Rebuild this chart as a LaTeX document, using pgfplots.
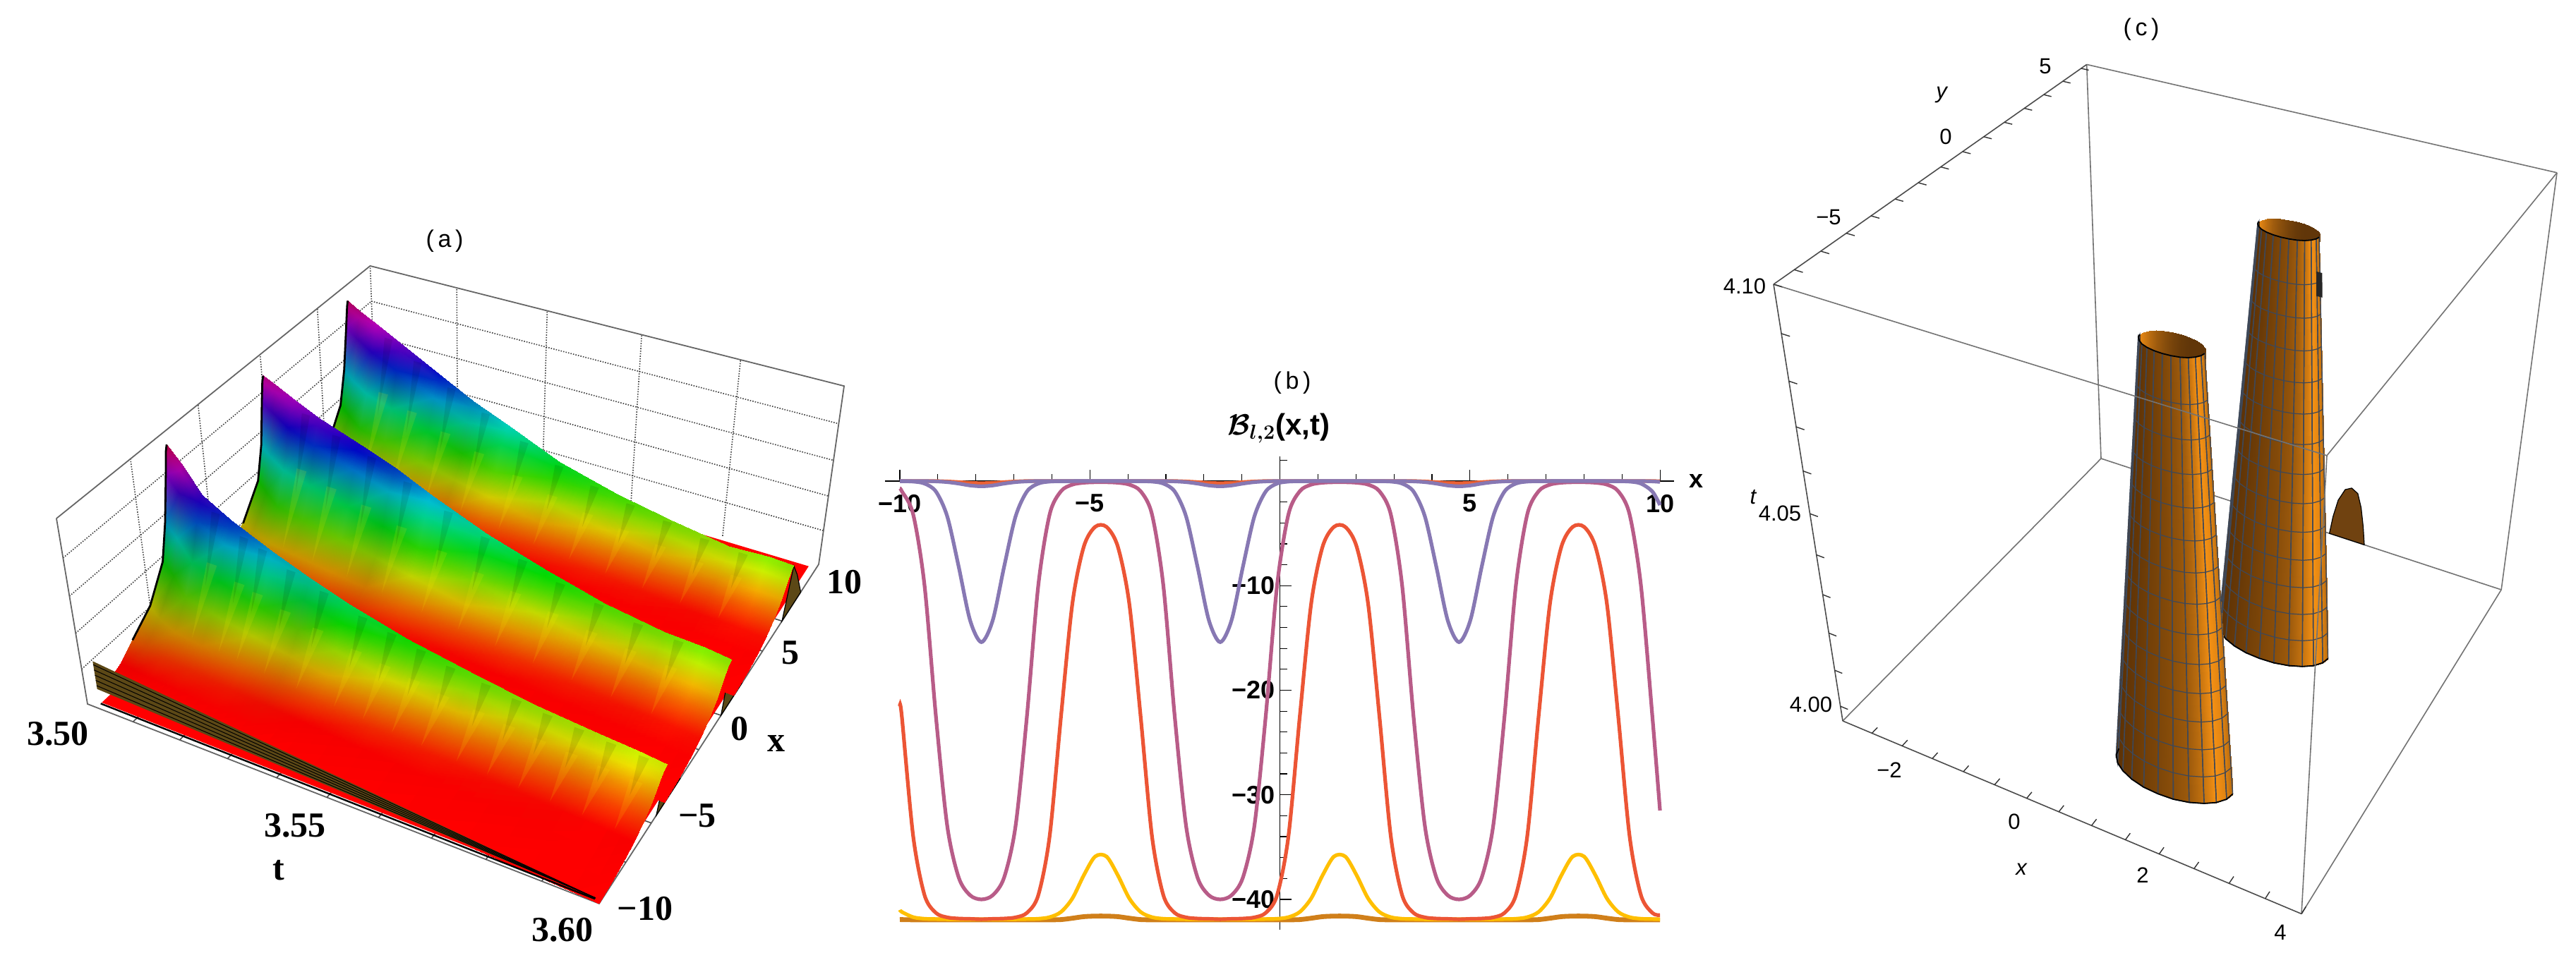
\documentclass[border=0pt]{standalone}
\usepackage{fontspec}
\setmainfont{Liberation Sans}
\newfontfamily\timesf{Liberation Serif}
\usepackage{pgfplots}
\pgfplotsset{compat=1.18}
\usepackage{pgfplotstable}
\usepgfplotslibrary{patchplots}
\definecolor{lipc}{RGB}{92,72,22}
\definecolor{meshl}{RGB}{62,72,88}
\definecolor{domec}{RGB}{112,66,16}
\pgfplotsset{
 colormap={cone}{rgb255(0cm)=(85,45,5) rgb255(1cm)=(245,145,20)},
 colormap={coneback}{rgb255(0cm)=(90,50,8) rgb255(1cm)=(230,135,20)},
 colormap={meshc}{rgb255(0cm)=(62,72,88) rgb255(1cm)=(62,72,88)},
}
\pgfkeys{/pgfplots/table/projA/.style={x expr={XA(\thisrow{a},\thisrow{b},\thisrow{c})},y expr={YA(\thisrow{a},\thisrow{b},\thisrow{c})},z expr=0}}
\pgfkeys{/pgfplots/table/projS/.style n args={3}{x expr={XA(#1+\thisrow{da},#2-\thisrow{db},#3*\thisrow{s})},y expr={YA(#1+\thisrow{da},#2-\thisrow{db},#3*\thisrow{s})},z expr=0}}
\pgfkeys{/pgfplots/table/projC/.style 2 args={x expr={XC(#1+\thisrow{da},#2+\thisrow{db},\thisrow{c})},y expr={YC(#1+\thisrow{da},#2+\thisrow{db},\thisrow{c})},z expr=0}}
\pgfkeys{/pgfplots/table/ringC/.style n args={3}{x expr={XC(#1+(1-#3)*\thisrow{u}+#3*\thisrow{w},#2+(1-#3)*\thisrow{v}+#3*\thisrow{s},0.97*#3)},y expr={YC(#1+(1-#3)*\thisrow{u}+#3*\thisrow{w},#2+(1-#3)*\thisrow{v}+#3*\thisrow{s},0.97*#3)},z expr=0}}
\pgfkeys{/pgfplots/table/projD/.style={x expr={XC(\thisrow{a},1,\thisrow{c})},y expr={YC(\thisrow{a},1,\thisrow{c})},z expr=0}}
% ridge surfaces of panel (a): t fraction a, x fraction b, height fraction c
\pgfplotstableread[row sep=\\]{
a b c\\
0 .05 0\\0 .1 .047\\0 .14 .112\\0 .2 .205\\0 .25 .372\\0 .27 .558\\0 .288 .79\\0 .296 .902\\0 .3 .93\\
.03 .049 0\\.03 .099 .043\\.03 .139 .102\\.03 .185 .187\\.03 .239 .34\\.03 .261 .51\\.03 .282 .723\\.03 .293 .825\\.03 .299 .85\\
.07 .047 0\\.07 .097 .036\\.07 .137 .086\\.07 .177 .158\\.07 .217 .288\\.07 .247 .432\\.07 .272 .612\\.07 .287 .698\\.07 .297 .72\\
.13 .044 0\\.13 .094 .032\\.13 .134 .077\\.13 .174 .141\\.13 .214 .256\\.13 .244 .384\\.13 .269 .544\\.13 .284 .621\\.13 .294 .64\\
.22 .039 0\\.22 .089 .028\\.22 .129 .066\\.22 .169 .121\\.22 .209 .22\\.22 .239 .33\\.22 .264 .468\\.22 .279 .534\\.22 .289 .55\\
.3 .035 0\\.3 .085 .024\\.3 .125 .058\\.3 .165 .106\\.3 .205 .192\\.3 .235 .288\\.3 .26 .408\\.3 .275 .466\\.3 .285 .48\\
.38 .031 0\\.38 .081 .021\\.38 .121 .05\\.38 .161 .092\\.38 .201 .168\\.38 .231 .252\\.38 .256 .357\\.38 .271 .407\\.38 .281 .42\\
.5 .025 0\\.5 .075 .018\\.5 .115 .042\\.5 .155 .077\\.5 .195 .14\\.5 .225 .21\\.5 .25 .298\\.5 .265 .34\\.5 .275 .35\\
.63 .019 0\\.63 .069 .015\\.63 .109 .036\\.63 .149 .066\\.63 .189 .12\\.63 .219 .18\\.63 .244 .255\\.63 .259 .291\\.63 .269 .3\\
.75 .013 0\\.75 .063 .013\\.75 .103 .031\\.75 .143 .057\\.75 .183 .104\\.75 .213 .156\\.75 .238 .221\\.75 .253 .252\\.75 .263 .26\\
.87 .007 0\\.87 .057 .012\\.87 .097 .029\\.87 .137 .053\\.87 .177 .096\\.87 .207 .144\\.87 .232 .204\\.87 .247 .233\\.87 .257 .24\\
.95 .003 0\\.95 .053 .012\\.95 .093 .028\\.95 .133 .051\\.95 .173 .092\\.95 .203 .138\\.95 .228 .196\\.95 .243 .223\\.95 .253 .23\\
1 0 0\\1 .05 .011\\1 .09 .026\\1 .13 .048\\1 .17 .088\\1 .2 .132\\1 .225 .187\\1 .24 .213\\1 .25 .22\\
}\ra
\pgfplotstableread[row sep=\\]{
a b c\\
0 .334 0\\0 .404 .044\\0 .444 .106\\0 .5 .194\\0 .56 .352\\0 .58 .528\\0 .593 .748\\0 .6 .854\\0 .604 .88\\
.03 .332 0\\.03 .402 .043\\.03 .442 .102\\.03 .488 .187\\.03 .542 .34\\.03 .564 .51\\.03 .585 .723\\.03 .596 .825\\.03 .602 .85\\
.07 .328 0\\.07 .398 .041\\.07 .438 .097\\.07 .478 .178\\.07 .518 .324\\.07 .548 .486\\.07 .573 .689\\.07 .588 .786\\.07 .598 .81\\
.13 .324 0\\.13 .394 .038\\.13 .434 .09\\.13 .474 .165\\.13 .514 .3\\.13 .544 .45\\.13 .569 .638\\.13 .584 .728\\.13 .594 .75\\
.22 .316 0\\.22 .386 .035\\.22 .426 .083\\.22 .466 .152\\.22 .506 .276\\.22 .536 .414\\.22 .561 .587\\.22 .576 .669\\.22 .586 .69\\
.3 .31 0\\.3 .38 .032\\.3 .42 .076\\.3 .46 .139\\.3 .5 .252\\.3 .53 .378\\.3 .555 .536\\.3 .57 .611\\.3 .58 .63\\
.38 .304 0\\.38 .374 .028\\.38 .414 .066\\.38 .454 .121\\.38 .494 .22\\.38 .524 .33\\.38 .549 .468\\.38 .564 .534\\.38 .574 .55\\
.5 .294 0\\.5 .364 .023\\.5 .404 .054\\.5 .444 .099\\.5 .484 .18\\.5 .514 .27\\.5 .539 .383\\.5 .554 .437\\.5 .564 .45\\
.63 .284 0\\.63 .354 .019\\.63 .394 .044\\.63 .434 .081\\.63 .474 .148\\.63 .504 .222\\.63 .529 .315\\.63 .544 .359\\.63 .554 .37\\
.75 .274 0\\.75 .344 .016\\.75 .384 .037\\.75 .424 .068\\.75 .464 .124\\.75 .494 .186\\.75 .519 .264\\.75 .534 .301\\.75 .544 .31\\
.87 .264 0\\.87 .334 .014\\.87 .374 .034\\.87 .414 .062\\.87 .454 .112\\.87 .484 .168\\.87 .509 .238\\.87 .524 .272\\.87 .534 .28\\
.95 .258 0\\.95 .328 .014\\.95 .368 .034\\.95 .408 .062\\.95 .448 .112\\.95 .478 .168\\.95 .503 .238\\.95 .518 .272\\.95 .528 .28\\
1 .254 0\\1 .324 .014\\1 .364 .032\\1 .404 .059\\1 .444 .108\\1 .474 .162\\1 .499 .23\\1 .514 .262\\1 .524 .27\\
}\rb
\pgfplotstableread[row sep=\\]{
a b c\\
0 .64 0\\0 .71 .046\\0 .75 .109\\0 .81 .2\\0 .865 .364\\0 .885 .546\\0 .9 .774\\0 .907 .883\\0 .91 .91\\
.03 .638 0\\.03 .708 .044\\.03 .748 .104\\.03 .794 .191\\.03 .848 .348\\.03 .87 .522\\.03 .891 .74\\.03 .902 .844\\.03 .908 .87\\
.07 .634 0\\.07 .704 .042\\.07 .744 .1\\.07 .784 .183\\.07 .824 .332\\.07 .854 .498\\.07 .879 .706\\.07 .894 .805\\.07 .904 .83\\
.13 .63 0\\.13 .7 .038\\.13 .74 .091\\.13 .78 .167\\.13 .82 .304\\.13 .85 .456\\.13 .875 .646\\.13 .89 .737\\.13 .9 .76\\
.22 .622 0\\.22 .692 .033\\.22 .732 .079\\.22 .772 .145\\.22 .812 .264\\.22 .842 .396\\.22 .867 .561\\.22 .882 .64\\.22 .892 .66\\
.3 .616 0\\.3 .686 .029\\.3 .726 .068\\.3 .766 .125\\.3 .806 .228\\.3 .836 .342\\.3 .861 .485\\.3 .876 .553\\.3 .886 .57\\
.38 .61 0\\.38 .68 .025\\.38 .72 .06\\.38 .76 .11\\.38 .8 .2\\.38 .83 .3\\.38 .855 .425\\.38 .87 .485\\.38 .88 .5\\
.5 .6 0\\.5 .67 .02\\.5 .71 .047\\.5 .75 .086\\.5 .79 .156\\.5 .82 .234\\.5 .845 .332\\.5 .86 .378\\.5 .87 .39\\
.63 .59 0\\.63 .66 .016\\.63 .7 .038\\.63 .74 .07\\.63 .78 .128\\.63 .81 .192\\.63 .835 .272\\.63 .85 .31\\.63 .86 .32\\
.75 .58 0\\.75 .65 .014\\.75 .69 .034\\.75 .73 .062\\.75 .77 .112\\.75 .8 .168\\.75 .825 .238\\.75 .84 .272\\.75 .85 .28\\
.87 .57 0\\.87 .64 .013\\.87 .68 .03\\.87 .72 .055\\.87 .76 .1\\.87 .79 .15\\.87 .815 .213\\.87 .83 .243\\.87 .84 .25\\
.95 .564 0\\.95 .634 .014\\.95 .674 .032\\.95 .714 .059\\.95 .754 .108\\.95 .784 .162\\.95 .809 .23\\.95 .824 .262\\.95 .834 .27\\
1 .56 0\\1 .63 .014\\1 .67 .032\\1 .71 .059\\1 .75 .108\\1 .78 .162\\1 .805 .23\\1 .82 .262\\1 .83 .27\\
}\rc
\pgfplotstableread[row sep=\\]{da db s\\-.011 .03 .62\\.011 .03 .62\\0 .11 .2\\}\spikeY
\pgfplotstableread[row sep=\\]{da db s\\-.009 .004 .97\\.009 .004 .97\\0 .055 .5\\}\spikeD
% panel (b) curves
\pgfplotstableread[row sep=\\]{
x B M R Y W S O\\
-10 -.03 -.7 -21.5 -41 -41.93 0 0\\
-9.948 -.02 -.97 -22.5 -41.2 -41.93 0 0\\
-9.649 -.05 -3.19 -33.96 -41.7 -41.95 0 0\\
-9.35 -.24 -10 -39.6 -41.85 -41.95 0 0\\
-9.051 -1 -22.5 -41.29 -41.88 -41.95 -.03 0\\
-8.752 -3.39 -33 -41.72 -41.9 -41.95 -.1 -.04\\
-8.452 -8.18 -37.9 -41.83 -41.9 -41.95 -.24 -.1\\
-8.153 -13.3 -39.6 -41.86 -41.9 -41.95 -.42 -.17\\
-7.854 -15.4 -40 -41.9 -41.9 -41.95 -.5 -.2\\
-7.555 -13.3 -39.6 -41.86 -41.9 -41.95 -.42 -.17\\
-7.256 -8.18 -37.9 -41.83 -41.9 -41.95 -.24 -.1\\
-6.956 -3.39 -33 -41.72 -41.9 -41.95 -.1 -.04\\
-6.657 -1 -22.5 -41.29 -41.88 -41.95 -.03 0\\
-6.358 -.24 -10 -39.6 -41.85 -41.95 0 0\\
-6.059 -.05 -3.19 -33.96 -41.7 -41.95 0 0\\
-5.76 -.02 -.97 -22.5 -41.2 -41.93 0 0\\
-5.46 -.01 -.34 -11.7 -39.9 -41.8 0 0\\
-5.161 0 -.16 -6.28 -37.7 -41.65 0 0\\
-4.862 0 -.11 -4.38 -35.9 -41.6 0 0\\
-4.563 0 -.11 -4.38 -35.9 -41.6 0 0\\
-4.264 0 -.16 -6.28 -37.7 -41.65 0 0\\
-3.964 -.01 -.34 -11.7 -39.9 -41.8 0 0\\
-3.665 -.02 -.97 -22.5 -41.2 -41.93 0 0\\
-3.366 -.05 -3.19 -33.96 -41.7 -41.95 0 0\\
-3.067 -.24 -10 -39.6 -41.85 -41.95 0 0\\
-2.768 -1 -22.5 -41.29 -41.88 -41.95 -.03 0\\
-2.468 -3.39 -33 -41.72 -41.9 -41.95 -.1 -.04\\
-2.169 -8.18 -37.9 -41.83 -41.9 -41.95 -.24 -.1\\
-1.87 -13.3 -39.6 -41.86 -41.9 -41.95 -.42 -.17\\
-1.571 -15.4 -40 -41.9 -41.9 -41.95 -.5 -.2\\
-1.272 -13.3 -39.6 -41.86 -41.9 -41.95 -.42 -.17\\
-.973 -8.18 -37.9 -41.83 -41.9 -41.95 -.24 -.1\\
-.673 -3.39 -33 -41.72 -41.9 -41.95 -.1 -.04\\
-.374 -1 -22.5 -41.29 -41.88 -41.95 -.03 0\\
-.075 -.24 -10 -39.6 -41.85 -41.95 0 0\\
.224 -.05 -3.19 -33.96 -41.7 -41.95 0 0\\
.523 -.02 -.97 -22.5 -41.2 -41.93 0 0\\
.823 -.01 -.34 -11.7 -39.9 -41.8 0 0\\
1.122 0 -.16 -6.28 -37.7 -41.65 0 0\\
1.421 0 -.11 -4.38 -35.9 -41.6 0 0\\
1.72 0 -.11 -4.38 -35.9 -41.6 0 0\\
2.019 0 -.16 -6.28 -37.7 -41.65 0 0\\
2.319 -.01 -.34 -11.7 -39.9 -41.8 0 0\\
2.618 -.02 -.97 -22.5 -41.2 -41.93 0 0\\
2.917 -.05 -3.19 -33.96 -41.7 -41.95 0 0\\
3.216 -.24 -10 -39.6 -41.85 -41.95 0 0\\
3.515 -1 -22.5 -41.29 -41.88 -41.95 -.03 0\\
3.815 -3.39 -33 -41.72 -41.9 -41.95 -.1 -.04\\
4.114 -8.18 -37.9 -41.83 -41.9 -41.95 -.24 -.1\\
4.413 -13.3 -39.6 -41.86 -41.9 -41.95 -.42 -.17\\
4.712 -15.4 -40 -41.9 -41.9 -41.95 -.5 -.2\\
5.011 -13.3 -39.6 -41.86 -41.9 -41.95 -.42 -.17\\
5.31 -8.18 -37.9 -41.83 -41.9 -41.95 -.24 -.1\\
5.61 -3.39 -33 -41.72 -41.9 -41.95 -.1 -.04\\
5.909 -1 -22.5 -41.29 -41.88 -41.95 -.03 0\\
6.208 -.24 -10 -39.6 -41.85 -41.95 0 0\\
6.507 -.05 -3.19 -33.96 -41.7 -41.95 0 0\\
6.806 -.02 -.97 -22.5 -41.2 -41.93 0 0\\
7.106 -.01 -.34 -11.7 -39.9 -41.8 0 0\\
7.405 0 -.16 -6.28 -37.7 -41.65 0 0\\
7.704 0 -.11 -4.38 -35.9 -41.6 0 0\\
8.003 0 -.11 -4.38 -35.9 -41.6 0 0\\
8.302 0 -.16 -6.28 -37.7 -41.65 0 0\\
8.602 -.01 -.34 -11.7 -39.9 -41.8 0 0\\
8.901 -.02 -.97 -22.5 -41.2 -41.93 0 0\\
9.2 -.05 -3.19 -33.96 -41.7 -41.95 0 0\\
9.499 -.24 -10 -39.6 -41.85 -41.95 0 0\\
9.799 -1 -22.5 -41.29 -41.88 -41.95 -.03 0\\
10 -2.3 -31.5 -41.5 -41.9 -41.95 -.08 -.02\\
}\curves
% cone cross-sections of panel (c), offsets from the axis of each cone
\pgfplotstableread[row sep=\\]{
da db c m\\
-.124 0 0 .05\\-.12 -.017 0 .03\\-.107 -.034 0 .05\\-.088 -.047 0 .08\\-.062 -.058 0 .12\\-.032 -.065 0 .18\\0 -.067 0 .25\\.032 -.065 0 .33\\.062 -.058 0 .45\\.088 -.047 0 .7\\.107 -.034 0 1\\.12 -.017 0 .85\\.124 0 0 .6\\
-.059 0 .97 .05\\-.057 -.008 .97 .03\\-.051 -.016 .97 .05\\-.042 -.023 .97 .08\\-.03 -.028 .97 .12\\-.015 -.031 .97 .18\\0 -.032 .97 .25\\.015 -.031 .97 .33\\.03 -.028 .97 .45\\.042 -.023 .97 .7\\.051 -.016 .97 1\\.057 -.008 .97 .85\\.059 0 .97 .6\\
}\cone
\pgfplotstableread[row sep=\\]{
da db c m\\
-.059 0 .97 1\\-.057 .008 .97 .9\\-.051 .016 .97 .7\\-.042 .023 .97 .5\\-.03 .028 .97 .35\\-.015 .031 .97 .2\\0 .032 .97 .1\\.015 .031 .97 .05\\.03 .028 .97 .05\\.042 .023 .97 .05\\.051 .016 .97 .05\\.057 .008 .97 .1\\.059 0 .97 .2\\
-.059 0 .6 1\\-.057 0 .6 .9\\-.051 0 .6 .7\\-.042 0 .6 .5\\-.03 0 .6 .35\\-.015 0 .6 .2\\0 0 .6 .1\\.015 0 .6 .05\\.03 0 .6 .05\\.042 0 .6 .05\\.051 0 .6 .05\\.057 0 .6 .1\\.059 0 .6 .2\\
}\coneback
\pgfplotstableread[row sep=\\]{
u v w s\\
-.124 0 -.059 0\\-.12 -.017 -.057 -.008\\-.107 -.034 -.051 -.016\\-.088 -.047 -.042 -.023\\-.062 -.058 -.03 -.028\\-.032 -.065 -.015 -.031\\0 -.067 0 -.032\\.032 -.065 .015 -.031\\.062 -.058 .03 -.028\\.088 -.047 .042 -.023\\.107 -.034 .051 -.016\\.12 -.017 .057 -.008\\.124 0 .059 0\\
}\ring
\newcommand{\segC}[3]{\draw[#3] (axis cs:{XC(#1)},{YC(#1)}) -- (axis cs:{XC(#2)},{YC(#2)});}
\newcommand{\laba}[3]{\node[font=\timesf\bfseries\fontsize{25}{25}\selectfont] at (axis cs:#1,{1368-#2}) {#3};}
\newcommand{\labc}[3]{\node[font=\fontsize{15.5}{16}\selectfont] at (axis cs:#1,{1368-#2}) {#3};}
\newcommand{\titl}[3]{\node[font=\fontsize{17}{18}\selectfont] at (axis cs:#1,{1368-#2}) {(\,#3\,)};}
\newcommand{\spike}[3]{\addplot3[fill=yellow,fill opacity=.13,draw=none] table[projS={#1}{#2}{#3}]{\spikeY} -- cycle;
 \addplot3[fill=black,fill opacity=.09,draw=none] table[projS={#1}{#2}{#3}]{\spikeD} -- cycle;}
\begin{document}
\begin{tikzpicture}[declare function={
 WA(\a,\b,\c)=1-.1207*\a+.2168*\b-.0748*\c;
 XA(\a,\b,\c)=(124+622.5*\a+525*\b-50*\c)/WA(\a,\b,\c);
 YA(\a,\b,\c)=1368-(998+128.4*\a-249.5*\b-318*\c)/WA(\a,\b,\c);
 WC(\a,\b,\c)=1-.1092*\a+.2007*\b-.166*\c;
 XC(\a,\b,\c)=(2611+293.9*\a+963.5*\b-515.2*\c)/WC(\a,\b,\c);
 YC(\a,\b,\c)=1368-(1022+132*\a-241.5*\b-685.9*\c)/WC(\a,\b,\c);
 HU(\c)=max(0,\c-.05)*6.4;
 CR(\c)=min(1,max(0,abs(HU(\c)-3)-1));
 CG(\c)=min(1,max(0,2-abs(HU(\c)-2)));
 CB(\c)=min(1,max(0,2-abs(HU(\c)-4)));
 DD(\a)=.08+.22*(1-\a)+.04*sin(\a*2600);
 EE(\c)=min(1,5*\c);
}]
\path[use as bounding box] (0,0) rectangle (1825pt,684pt);
\begin{axis}[at={(0,0)},anchor=south west,scale only axis,width=1825pt,height=684pt,hide axis,view={0}{90},
 xmin=0,xmax=3650,ymin=0,ymax=1368,zmin=-1,zmax=1,clip=false,point meta min=0,point meta max=1]
% ---------- panel (a): back walls
\pgfplotsinvokeforeach{.2,.4,.6,.8}{
 \draw[black!75,densely dotted,line width=.8pt] (axis cs:{XA(#1,1,0)},{YA(#1,1,0)}) -- (axis cs:{XA(#1,1,1)},{YA(#1,1,1)});
 \draw[black!75,densely dotted,line width=.8pt] (axis cs:{XA(0,1,#1)},{YA(0,1,#1)}) -- (axis cs:{XA(1,1,#1)},{YA(1,1,#1)});
 \draw[black!75,densely dotted,line width=.8pt] (axis cs:{XA(0,0,#1)},{YA(0,0,#1)}) -- (axis cs:{XA(0,1,#1)},{YA(0,1,#1)});
 \draw[black!75,densely dotted,line width=.8pt] (axis cs:{XA(0,#1,0)},{YA(0,#1,0)}) -- (axis cs:{XA(0,#1,1)},{YA(0,#1,1)});
}
\draw[black!75,densely dotted,line width=.8pt] (axis cs:{XA(0,1,0)},{YA(0,1,0)}) -- (axis cs:{XA(0,1,1)},{YA(0,1,1)});
\draw[black!60,line width=.9pt] (axis cs:{XA(0,0,1)},{YA(0,0,1)}) -- (axis cs:{XA(0,1,1)},{YA(0,1,1)}) -- (axis cs:{XA(1,1,1)},{YA(1,1,1)}) -- (axis cs:{XA(1,1,0)},{YA(1,1,0)});
\draw[black!60,line width=.9pt] (axis cs:{XA(0,0,1)},{YA(0,0,1)}) -- (axis cs:{XA(0,0,0)},{YA(0,0,0)}) -- (axis cs:{XA(1,0,0)},{YA(1,0,0)}) -- (axis cs:{XA(1,1,0)},{YA(1,1,0)});
% ticks
\pgfplotsinvokeforeach{.1,.2,.3,.4,.5,.6,.7,.8,.9}{
 \draw[black!70,line width=.8pt] (axis cs:{XA(#1,0,0)},{YA(#1,0,0)}) -- (axis cs:{XA(#1,.015,0)},{YA(#1,.015,0)});
 \draw[black!70,line width=.8pt] (axis cs:{XA(1,#1,0)},{YA(1,#1,0)}) -- (axis cs:{XA(.985,#1,0)},{YA(.985,#1,0)});
}
% floor
\addplot3[fill=red,draw=none] table[projA,row sep=\\]{a b c\\.02 .015 0\\.99 .01 0\\.985 .985 0\\.02 .99 0\\} -- cycle;
% ridge ends
\addplot3[fill=lipc,draw=black,line width=.6pt] table[projA,row sep=\\]{a b c\\1 .8 0\\1 .83 .27\\1 .86 .17\\1 .9 0\\} -- cycle;
\addplot3[fill=lipc,draw=black,line width=.6pt] table[projA,row sep=\\]{a b c\\1 .5 0\\1 .524 .27\\1 .56 .15\\1 .6 0\\} -- cycle;
\addplot3[fill=lipc,draw=black,line width=.6pt] table[projA,row sep=\\]{a b c\\1 .22 0\\1 .25 .22\\1 .28 .13\\1 .32 0\\} -- cycle;
% ridges, back to front
\addplot3[surf,shader=interp,mesh/rows=13,mesh/cols=9,mesh/color input=explicit mathparse,
 point meta={symbolic={CR(\thisrow{c})*(1-DD(\thisrow{a})*EE(\thisrow{c})),CG(\thisrow{c})*(1-DD(\thisrow{a})*EE(\thisrow{c})),CB(\thisrow{c})*(1-DD(\thisrow{a})*EE(\thisrow{c}))}}] table[projA]{\rc};
\spike{.1}{.902}{.8}\spike{.17}{.896}{.72}\spike{.25}{.89}{.63}\spike{.33}{.884}{.55}\spike{.42}{.876}{.46}\spike{.5}{.87}{.39}\spike{.58}{.864}{.34}\spike{.66}{.857}{.31}\spike{.74}{.851}{.285}\spike{.82}{.845}{.26}\spike{.9}{.838}{.255}
\addplot3[black,line width=1.4pt] table[projA,row sep=\\]{a b c\\0 .81 .2\\0 .865 .364\\0 .885 .546\\0 .9 .774\\0 .907 .883\\0 .91 .91\\};
\addplot3[surf,shader=interp,mesh/rows=13,mesh/cols=9,mesh/color input=explicit mathparse,
 point meta={symbolic={CR(\thisrow{c})*(1-DD(\thisrow{a})*EE(\thisrow{c})),CG(\thisrow{c})*(1-DD(\thisrow{a})*EE(\thisrow{c})),CB(\thisrow{c})*(1-DD(\thisrow{a})*EE(\thisrow{c}))}}] table[projA]{\rb};
\spike{.1}{.596}{.78}\spike{.17}{.59}{.72}\spike{.25}{.584}{.67}\spike{.33}{.578}{.6}\spike{.42}{.57}{.52}\spike{.5}{.564}{.45}\spike{.58}{.558}{.4}\spike{.66}{.551}{.35}\spike{.74}{.545}{.315}\spike{.82}{.538}{.29}\spike{.9}{.532}{.28}
\addplot3[black,line width=1.4pt] table[projA,row sep=\\]{a b c\\0 .5 .194\\0 .56 .352\\0 .58 .528\\0 .593 .748\\0 .6 .854\\0 .604 .88\\};
\addplot3[surf,shader=interp,mesh/rows=13,mesh/cols=9,mesh/color input=explicit mathparse,
 point meta={symbolic={CR(\thisrow{c})*(1-DD(\thisrow{a})*EE(\thisrow{c})),CG(\thisrow{c})*(1-DD(\thisrow{a})*EE(\thisrow{c})),CB(\thisrow{c})*(1-DD(\thisrow{a})*EE(\thisrow{c}))}}] table[projA]{\ra};
\spike{.1}{.295}{.68}\spike{.16}{.292}{.6}\spike{.2}{.29}{.57}\spike{.26}{.287}{.51}\spike{.33}{.283}{.46}\spike{.41}{.28}{.4}\spike{.47}{.277}{.37}\spike{.53}{.274}{.34}\spike{.59}{.27}{.31}\spike{.66}{.267}{.29}\spike{.72}{.264}{.27}\spike{.78}{.261}{.255}\spike{.84}{.258}{.245}\spike{.9}{.255}{.235}\spike{.96}{.252}{.23}
\addplot3[black,line width=1.4pt] table[projA,row sep=\\]{a b c\\0 .14 .112\\0 .2 .205\\0 .25 .372\\0 .27 .558\\0 .288 .79\\0 .296 .902\\0 .3 .93\\};
% front lip
\addplot3[fill=lipc,draw=none] table[projA,row sep=\\]{a b c\\0 .03 .19\\.99 .008 0\\0 .03 .03\\} -- cycle;
\pgfplotsinvokeforeach{.05,.08,.11,.14,.17}{\addplot3[black,line width=.5pt] table[projA,row sep=\\]{a b c\\0 .03 #1\\.99 .008 0\\};}
\addplot3[black,line width=1.2pt] table[projA,row sep=\\]{a b c\\.02 .012 0\\.99 .006 0\\};
% labels (a)
\titl{630}{342}{a}
\laba{82}{1040}{3.50}\laba{418}{1170}{3.55}\laba{797}{1318}{3.60}\laba{395}{1234}{t}
\laba{1196}{825}{10}\laba{1120}{925}{5}\laba{1048}{1033}{0}\laba{1100}{1054}{x}\laba{988}{1156}{−5}\laba{914}{1288}{−10}
% ---------- panel (c): back edges
\segC{0,0,0}{0,1,0}{black!55,line width=.8pt}
\segC{0,1,0}{1,1,0}{black!55,line width=.8pt}
\segC{0,1,0}{0,1,1}{black!55,line width=.8pt}
% dome cut by the back face
\addplot3[fill=domec,draw=black,line width=.6pt] table[projD,row sep=\\]{a c\\.5937 0\\.6 .05\\.61 .1\\.625 .135\\.64 .1445\\.655 .135\\.665 .1\\.673 .05\\.6788 0\\} -- cycle;
% cone 2
\addplot3[surf,shader=interp,mesh/rows=2,mesh/cols=13,colormap name=coneback,point meta=\thisrow{m}] table[projC={.64}{.623}]{\coneback};
\addplot3[surf,shader=interp,mesh/rows=2,mesh/cols=13,colormap name=cone,point meta=\thisrow{m}] table[projC={.64}{.623}]{\cone};
\addplot3[mesh,colormap name=meshc,mesh/rows=2,mesh/cols=13,point meta=.5,line width=.7pt] table[projC={.64}{.623}]{\cone};
\pgfplotsinvokeforeach{.07,.14,.21,.28,.35,.42,.49,.56,.63,.7,.77,.84,.91}{\addplot3[color=meshl,line width=.6pt] table[ringC={.64}{.623}{#1}]{\ring};}
\addplot3[black,line width=.9pt] table[ringC={.64}{.623}{1}]{\ring};
\addplot3[black,line width=.9pt] table[ringC={.64}{.623}{0}]{\ring};
\addplot3[fill=black!85,draw=none] table[x expr={XC(\thisrow{a},.623,\thisrow{c})},y expr={YC(\thisrow{a},.623,\thisrow{c})},z expr=0,row sep=\\]{a c\\.699 .85\\.711 .85\\.708 .9\\.697 .9\\} -- cycle;
% cone 1
\addplot3[surf,shader=interp,mesh/rows=2,mesh/cols=13,colormap name=coneback,point meta=\thisrow{m}] table[projC={.64}{.195}]{\coneback};
\addplot3[surf,shader=interp,mesh/rows=2,mesh/cols=13,colormap name=cone,point meta=\thisrow{m}] table[projC={.64}{.195}]{\cone};
\addplot3[mesh,colormap name=meshc,mesh/rows=2,mesh/cols=13,point meta=.5,line width=.7pt] table[projC={.64}{.195}]{\cone};
\pgfplotsinvokeforeach{.07,.14,.21,.28,.35,.42,.49,.56,.63,.7,.77,.84,.91}{\addplot3[color=meshl,line width=.6pt] table[ringC={.64}{.195}{#1}]{\ring};}
\addplot3[black,line width=.9pt] table[ringC={.64}{.195}{1}]{\ring};
\addplot3[black,line width=.9pt] table[ringC={.64}{.195}{0}]{\ring};
% front edges
\segC{0,0,0}{1,0,0}{black!70,line width=.8pt}
\segC{1,0,0}{1,1,0}{black!55,line width=.8pt}
\segC{0,0,0}{0,0,1}{black!70,line width=.8pt}
\segC{0,0,1}{0,1,1}{black!70,line width=.8pt}
\segC{0,1,1}{1,1,1}{black!55,line width=.8pt}
\segC{1,1,1}{1,1,0}{black!55,line width=.8pt}
\segC{0,0,1}{1,0,1}{black!55,line width=.8pt}
\segC{1,0,1}{1,1,1}{black!55,line width=.8pt}
\segC{1,0,1}{1,0,0}{black!55,line width=.8pt}
% ticks (c)
\pgfplotsinvokeforeach{.071,.143,.214,.286,.357,.429,.5,.571,.643,.714,.786,.857,.929,1}{\segC{#1,0,0}{#1,.018,0}{black!80,line width=.7pt}}
\pgfplotsinvokeforeach{.054,.125,.196,.267,.338,.409,.48,.551,.622,.693,.764,.835,.907,.978}{\segC{0,#1,1}{.018,#1,1}{black!80,line width=.7pt}}
\pgfplotsinvokeforeach{.04,.136,.232,.328,.424,.52,.616,.712,.808,.904,1}{\segC{0,0,#1}{.018,0,#1}{black!80,line width=.7pt}}
% labels (c)
\titl{3034}{42}{c}
\labc{2898}{94}{5}\labc{2757}{194}{0}\labc{2591}{308}{−5}
\node[font=\itshape\fontsize{15.5}{16}\selectfont] at (axis cs:2751,{1368-135}) {y};
\labc{2472}{406}{4.10}\labc{2522}{728}{4.05}\labc{2566}{999}{4.00}
\node[font=\itshape\fontsize{15.5}{16}\selectfont] at (axis cs:2484,{1368-705}) {t};
\labc{2677}{1092}{−2}\labc{2854}{1165}{0}\labc{3036}{1241}{2}\labc{3231}{1322}{4}
\node[font=\itshape\fontsize{15.5}{16}\selectfont] at (axis cs:2864,{1368-1232}) {x};
\titl{1831}{543}{b}
\node[font=\bfseries\boldmath\fontsize{21}{22}\selectfont] at (axis cs:1812,{1368-607}) {$\mathcal{B}_{l,2}$(x,t)};
\end{axis}
\begin{axis}[at={(627pt,25pt)},anchor=south west,scale only axis,width=559pt,height=335.5pt,
 xmin=-10.39,xmax=10.37,ymin=-42.9,ymax=2.36,axis lines=middle,axis line style={-,black,line width=.6pt},
 tick align=inside,major tick length=8pt,minor tick length=5pt,tick style={black,line width=.6pt},
 xtick={-10,-5,5,10},xticklabels={−10,−5,5,10},minor xtick={-9,-8,-7,-6,-4,-3,-2,-1,1,2,3,4,6,7,8,9},
 ytick={-40,-30,-20,-10},yticklabels={−40,−30,−20,−10},minor ytick={-42,-38,-36,-34,-32,-28,-26,-24,-22,-18,-16,-14,-12,-8,-6,-4,-2,0,2},
 xticklabel style={font=\bfseries\fontsize{18}{18}\selectfont,yshift=-6pt},
 yticklabel style={font=\bfseries\fontsize{18}{18}\selectfont},
 xlabel={x},xlabel style={font=\bfseries\fontsize{18}{18}\selectfont,at={(axis cs:10.95,0)},anchor=center},
 clip=false,axis on top=false]
\addplot[color={rgb,255:red,236;green,98;blue,53},line width=2.6pt,smooth] table[x=x,y=O]{\curves};
\addplot[color={rgb,255:red,135;green,120;blue,179},line width=2.6pt,smooth] table[x=x,y=S]{\curves};
\addplot[color={rgb,255:red,208;green,127;blue,26},line width=3.4pt,smooth] table[x=x,y=W]{\curves};
\addplot[color={rgb,255:red,255;green,191;blue,0},line width=2.6pt,smooth] table[x=x,y=Y]{\curves};
\addplot[color={rgb,255:red,236;green,85;blue,53},line width=2.6pt,smooth] table[x=x,y=R]{\curves};
\addplot[color={rgb,255:red,184;green,92;blue,136},line width=2.6pt,smooth] table[x=x,y=M]{\curves};
\addplot[color={rgb,255:red,135;green,120;blue,179},line width=2.6pt,smooth] table[x=x,y=B]{\curves};
\end{axis}
\end{tikzpicture}
\end{document}
